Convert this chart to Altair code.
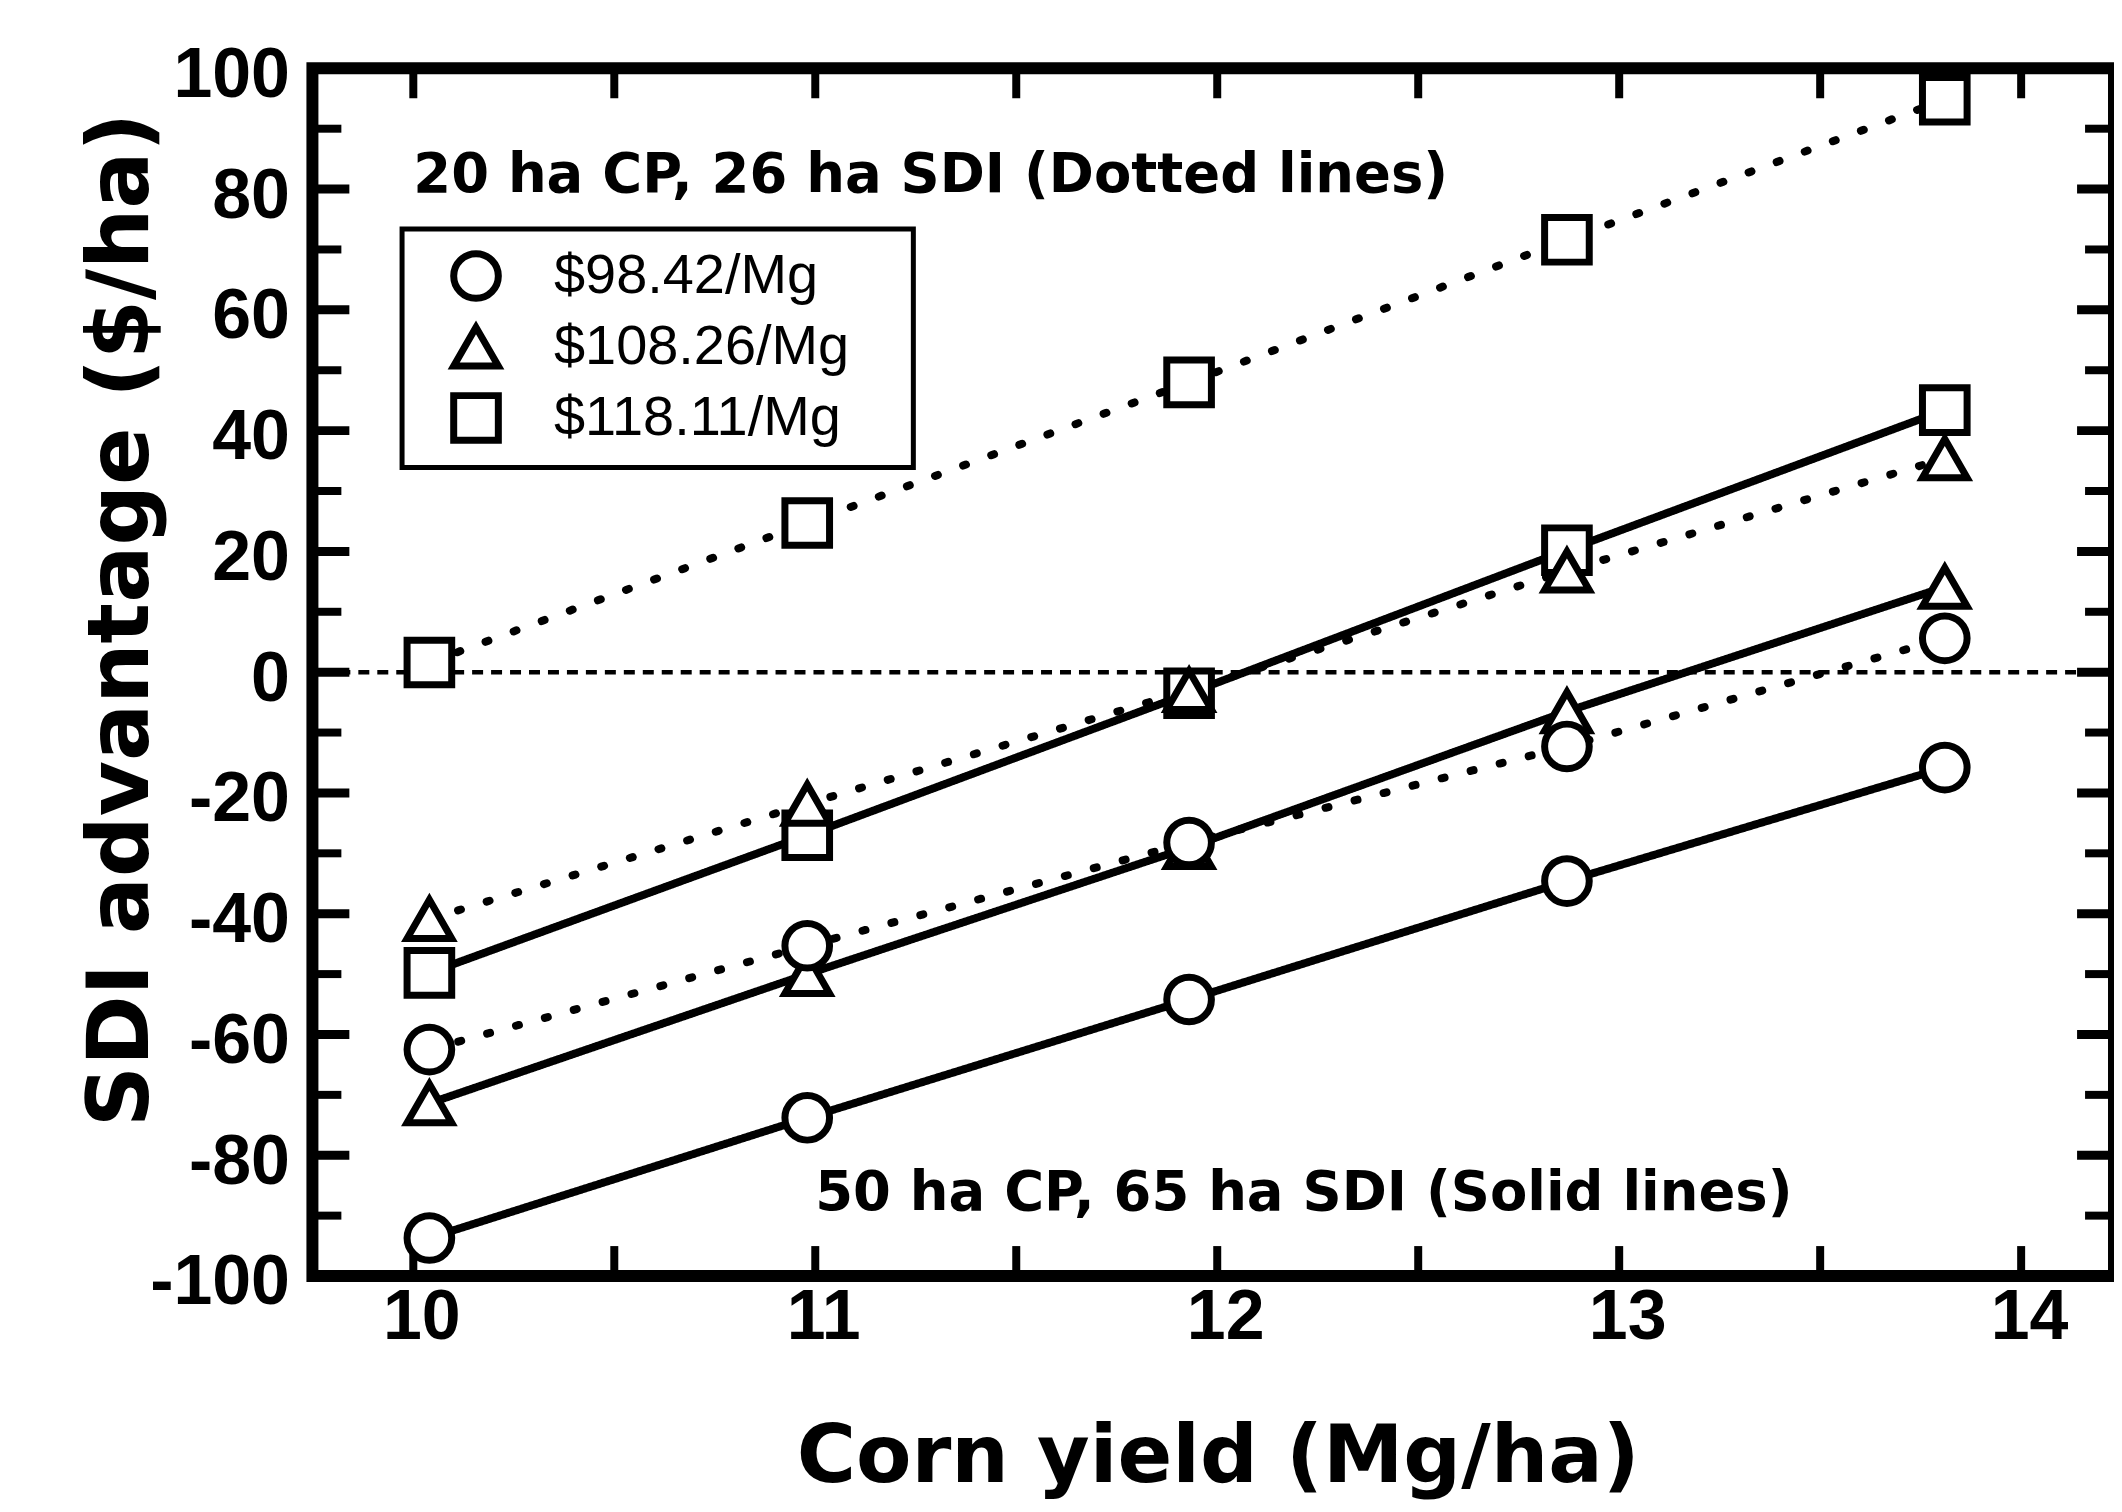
import altair as alt
import pandas as pd

# ---------------- data ----------------
yields = [10.04, 10.98, 11.93, 12.87, 13.81]
prices = ["$98.42/Mg", "$108.26/Mg", "$118.11/Mg"]
systems = ["50 ha CP, 65 ha SDI", "20 ha CP, 26 ha SDI"]

# 50 ha CP, 65 ha SDI (solid lines)
solid_circle = [-93.7, -73.8, -54.2, -34.6, -15.8]
solid_triangle = [-71.4, -50.0, -29.0, -6.5, 14.1]
solid_square = [-49.8, -27.0, -3.5, 20.2, 43.4]

# 20 ha CP, 26 ha SDI (dotted lines)
dotted_circle = [-62.5, -45.3, -28.2, -12.3, 5.6]
dotted_triangle = [-40.9, -21.8, -3.0, 16.8, 35.4]
dotted_square = [1.6, 24.7, 48.0, 71.6, 94.8]

x_tick_labels = [10, 11, 12, 13, 14]
x_ticks = [10, 10.5, 11, 11.5, 12, 12.5, 13, 13.5, 14]
y_tick_labels = [-100, -80, -60, -40, -20, 0, 20, 40, 60, 80, 100]
y_minor = [-90, -70, -50, -30, -10, 10, 30, 50, 70, 90]
zero_line = [0]

annot_text = ["20 ha CP,  26 ha SDI (Dotted lines)", "50 ha CP,  65 ha SDI (Solid lines)"]
annot_x = [10.0, 11.0]
annot_y = [79.5, -89.1]

# legend box (in data units of the two axes), key column and label column
legend_box_x = [9.972, 11.244]
legend_box_y = [73.4, 33.9]
legend_key_x = 10.156
legend_label_x = 10.350
legend_rows_y = [65.6, 53.9, 42.1]

# ---------------- tables ----------------
rows = []
for system, series in [(systems[0], [solid_circle, solid_triangle, solid_square]),
                       (systems[1], [dotted_circle, dotted_triangle, dotted_square])]:
    for price, vals in zip(prices, series):
        for xv, yv in zip(yields, vals):
            rows.append({"system": system, "price": price, "grp": system + price,
                         "corn_yield": xv, "advantage": yv})
df = pd.DataFrame(rows)

legend_df = pd.DataFrame({"price": prices,
                          "corn_yield": [legend_key_x] * len(prices),
                          "label_x": [legend_label_x] * len(prices),
                          "advantage": legend_rows_y})
box_df = pd.DataFrame({"corn_yield": [legend_box_x[0]], "x2": [legend_box_x[1]],
                       "advantage": [legend_box_y[0]], "y2": [legend_box_y[1]]})

W, H = 1805, 1210
xs = alt.Scale(domain=[9.749, 14.231], nice=False, zero=False)
ys = alt.Scale(domain=[-100, 100], nice=False, zero=False)
shape_scale = alt.Scale(domain=prices, range=["circle", "triangle-up", "square"])

x_axis = alt.Axis(values=x_tick_labels, format="d", title="Corn yield (Mg/ha)",
                  labelPadding=8, labelOffset=8, labelFontSize=70, labelFont="Liberation Sans",
                  labelFontWeight="bold", labelColor="black",
                  titleFont="DejaVu Sans", titleFontSize=81, titleFontWeight="bold",
                  titleColor="black",
                  titleX=907, titleY=206, titleAlign="center", titleBaseline="alphabetic",
                  domain=False, ticks=False, grid=False)
y_axis = alt.Axis(values=y_tick_labels, labelExpr="'' + datum.value",
                  title="SDI advantage ($/ha)",
                  labelPadding=23, labelFontSize=70, labelFont="Liberation Sans",
                  labelFontWeight="bold", labelColor="black",
                  labelBaseline="middle", labelOffset=7,
                  titleFont="DejaVu Sans", titleFontSize=85, titleFontWeight="bold",
                  titleColor="black",
                  titleX=-191, titleY=552, titleAngle=270, titleAlign="center",
                  titleBaseline="middle",
                  domain=False, ticks=False, grid=False)


def X(field):
    return alt.X(field, scale=xs, axis=x_axis)


def Y(field):
    return alt.Y(field, scale=ys, axis=y_axis)


def S():
    return alt.Shape("price:N", scale=shape_scale, legend=None)


# ---------------- layers ----------------
lines = alt.Chart(df).mark_line(color="black", strokeWidth=8, strokeCap="round").encode(
    x=X("corn_yield:Q"), y=Y("advantage:Q"),
    detail="grp:N",
    order="corn_yield:Q",
    strokeDash=alt.StrokeDash("system:N",
                              scale=alt.Scale(domain=systems, range=[[1, 0], [3, 27]]),
                              legend=None),
)

zero = alt.Chart(pd.DataFrame({"advantage": zero_line})).mark_rule(
    color="black", strokeWidth=4.5, strokeDash=[11, 8]
).encode(y=Y("advantage:Q"))

xt = pd.DataFrame({"corn_yield": x_ticks})
tick_bottom = alt.Chart(xt).mark_rule(color="black", strokeWidth=8).encode(
    x=X("corn_yield:Q"), y=alt.value(H), y2=alt.value(H - 30))
tick_top = alt.Chart(xt).mark_rule(color="black", strokeWidth=8).encode(
    x=X("corn_yield:Q"), y=alt.value(0), y2=alt.value(30))

ymaj = pd.DataFrame({"advantage": y_tick_labels})
ymin = pd.DataFrame({"advantage": y_minor})
tick_left_major = alt.Chart(ymaj).mark_rule(color="black", strokeWidth=9).encode(
    y=Y("advantage:Q"), x=alt.value(0), x2=alt.value(37))
tick_left_minor = alt.Chart(ymin).mark_rule(color="black", strokeWidth=8).encode(
    y=Y("advantage:Q"), x=alt.value(0), x2=alt.value(29))
tick_right_major = alt.Chart(ymaj).mark_rule(color="black", strokeWidth=9).encode(
    y=Y("advantage:Q"), x=alt.value(W), x2=alt.value(W - 37))
tick_right_minor = alt.Chart(ymin).mark_rule(color="black", strokeWidth=8).encode(
    y=Y("advantage:Q"), x=alt.value(W), x2=alt.value(W - 29))

points = alt.Chart(df).mark_point(
    filled=True, fill="white", stroke="black", strokeWidth=7, size=2000, opacity=1
).encode(x=X("corn_yield:Q"), y=Y("advantage:Q"), shape=S())

annot = alt.Chart(pd.DataFrame({"t": annot_text, "corn_yield": annot_x,
                                "advantage": annot_y})).mark_text(
    align="left", baseline="alphabetic", font="DejaVu Sans", fontSize=54.5,
    fontWeight="bold", color="black"
).encode(x=X("corn_yield:Q"), y=Y("advantage:Q"), text="t:N")

# legend: framed box with one key symbol and one label per price
legend_box = alt.Chart(box_df).mark_rect(
    fill="white", stroke="black", strokeWidth=5
).encode(x=X("corn_yield:Q"), x2="x2:Q", y=Y("advantage:Q"), y2="y2:Q")

legend_keys = alt.Chart(legend_df).mark_point(
    filled=True, fill="white", stroke="black", strokeWidth=7, size=2000, opacity=1
).encode(x=X("corn_yield:Q"), y=Y("advantage:Q"), shape=S())

legend_labels = alt.Chart(legend_df).mark_text(
    align="left", baseline="middle", font="Liberation Sans", fontSize=56, color="black"
).encode(x=X("label_x:Q"), y=Y("advantage:Q"), text="price:N")

chart = alt.layer(
    lines, zero, tick_bottom, tick_top, tick_left_major, tick_left_minor,
    tick_right_major, tick_right_minor, points, annot,
    legend_box, legend_keys, legend_labels
).properties(
    width=W, height=H,
    autosize=alt.AutoSizeParams(type="none"),
    padding={"left": 305, "top": 59, "right": 0, "bottom": 235},
    background="white",
).configure_view(
    stroke="black", strokeWidth=12
)

chart.save("out.html", embed_options={"renderer": "svg", "actions": False})
